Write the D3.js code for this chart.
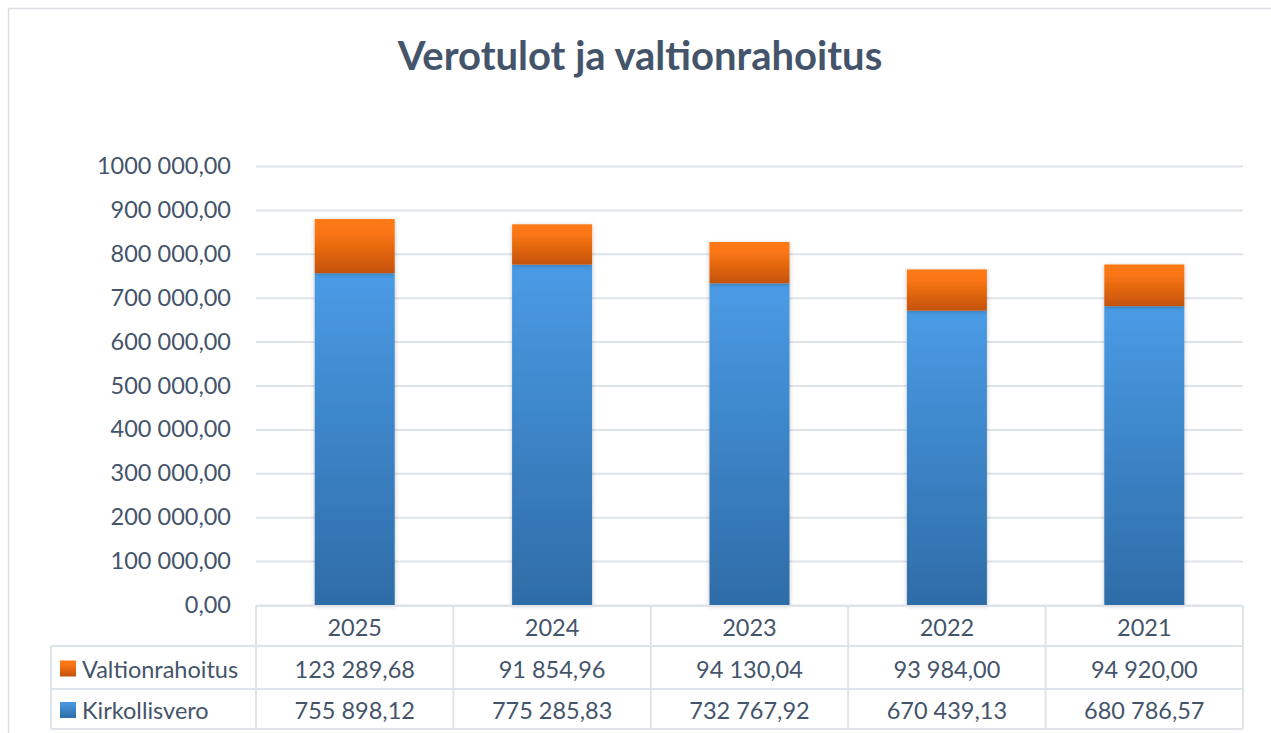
<!DOCTYPE html>
<html>
<head>
<meta charset="utf-8">
<script src="https://cdn.jsdelivr.net/npm/d3@7"></script>
<style>
  html, body { margin: 0; padding: 0; background: #fff; }
  svg { display: block; font-family: Lato, Carlito, "Open Sans", sans-serif; }
</style>
</head>
<body>
<div id="chart"></div>
<script>
const years = ['2025', '2024', '2023', '2022', '2021'];
const valtionrahoitus = [123289.68, 91854.96, 94130.04, 93984.0, 94920.0];
const kirkollisvero = [755898.12, 775285.83, 732767.92, 670439.13, 680786.57];
const seriesNames = ['Valtionrahoitus', 'Kirkollisvero'];
const yTicks = [0, 100000, 200000, 300000, 400000, 500000, 600000, 700000, 800000, 900000, 1000000];
const yTickLabels = ['0,00', '100 000,00', '200 000,00', '300 000,00', '400 000,00', '500 000,00',
	'600 000,00', '700 000,00', '800 000,00', '900 000,00', '1000 000,00'];

const W = 1271, H = 733;
const textColor = '#44546a';
const gridColor = '#dfe4ea';

const fmt = (v) => {
	const parts = v.toFixed(2).split('.');
	const int = parts[0].replace(/\B(?=(\d{3})+(?!\d))/g, ' ');
	return `${int},${parts[1]}`;
};

const svg = d3.select('#chart').append('svg').attr('width', W).attr('height', H);

const defs = svg.append('defs');
const blue = defs.append('linearGradient').attr('id', 'gBlue').attr('x1', 0).attr('y1', 0).attr('x2', 0).attr('y2', 1);
blue.append('stop').attr('offset', '0%').attr('stop-color', '#4a9be6');
blue.append('stop').attr('offset', '100%').attr('stop-color', '#2e6ca7');
const orange = defs.append('linearGradient').attr('id', 'gOrange').attr('x1', 0).attr('y1', 0).attr('x2', 0).attr('y2', 1);
orange.append('stop').attr('offset', '0%').attr('stop-color', '#ff7a14');
orange.append('stop').attr('offset', '25%').attr('stop-color', '#fa7613');
orange.append('stop').attr('offset', '100%').attr('stop-color', '#c4520c');
const shadow = defs.append('filter').attr('id', 'shadow').attr('x', '-20%').attr('y', '-20%').attr('width', '140%').attr('height', '140%');
shadow.append('feDropShadow').attr('dx', 0).attr('dy', 1).attr('stdDeviation', 2).attr('flood-color', '#000').attr('flood-opacity', 0.25);

// chart frame
svg.append('rect').attr('x', 8.5).attr('y', 8.5).attr('width', W).attr('height', H)
	.attr('fill', 'none').attr('stroke', '#d9dee5').attr('stroke-width', 1.5);

svg.append('text').attr('x', 640).attr('y', 70).attr('text-anchor', 'middle')
	.attr('font-size', 40).attr('font-weight', 700).attr('fill', textColor)
	.text('Verotulot ja valtionrahoitus');

const plot = { left: 256, right: 1243, top: 166, bottom: 605 };

const x = d3.scaleBand().domain(years).range([plot.left, plot.right]);
const y = d3.scaleLinear().domain([0, 1000000]).range([plot.bottom, plot.top]);
const barW = 80;

// gridlines
const yAxis = d3.axisLeft(y).tickValues(yTicks).tickSize(-(plot.right - plot.left))
	.tickFormat((d, i) => yTickLabels[i]).tickPadding(25);
const gy = svg.append('g').attr('transform', `translate(${plot.left},0)`).call(yAxis);
gy.select('.domain').remove();
gy.selectAll('line').attr('stroke', gridColor).attr('stroke-width', 2);
gy.selectAll('text').attr('font-size', 23.5).attr('fill', textColor).attr('font-family', 'Lato, Carlito, sans-serif');

// stacked bars
const stackData = years.map((yr, i) => ({ year: yr, Kirkollisvero: kirkollisvero[i], Valtionrahoitus: valtionrahoitus[i] }));
const stack = d3.stack().keys(['Kirkollisvero', 'Valtionrahoitus'])(stackData);
const fills = { Kirkollisvero: 'url(#gBlue)', Valtionrahoitus: 'url(#gOrange)' };

svg.append('g').selectAll('g').data(stack).join('g')
	.attr('fill', (s) => fills[s.key])
	.attr('filter', 'url(#shadow)')
	.selectAll('rect').data((s) => s).join('rect')
	.attr('x', (d) => x(d.data.year) + (x.bandwidth() - barW) / 2)
	.attr('y', (d) => y(d[1]))
	.attr('width', barW)
	.attr('height', (d) => y(d[0]) - y(d[1]));

// data table
const rowTop = [606, 646, 689, 729];
const tableLeft = 51;
const table = svg.append('g');
const line = (x1, y1, x2, y2) => table.append('line').attr('x1', x1).attr('y1', y1).attr('x2', x2).attr('y2', y2)
	.attr('stroke', gridColor).attr('stroke-width', 2);

line(plot.left, rowTop[0], plot.right, rowTop[0]);
line(tableLeft, rowTop[1], plot.right, rowTop[1]);
line(tableLeft, rowTop[2], plot.right, rowTop[2]);
line(tableLeft, rowTop[3], plot.right, rowTop[3]);
line(tableLeft, rowTop[1], tableLeft, rowTop[3]);
x.domain().forEach((yr) => line(x(yr), rowTop[0], x(yr), rowTop[3]));
line(plot.right, rowTop[0], plot.right, rowTop[3]);

const cellText = (tx, ty, t, anchor) => table.append('text').attr('x', tx).attr('y', ty)
	.attr('text-anchor', anchor || 'middle').attr('dominant-baseline', 'central')
	.attr('font-size', 23.5).attr('fill', textColor).text(t);

years.forEach((yr) => cellText(x(yr) + x.bandwidth() / 2, (rowTop[0] + rowTop[1]) / 2 + 1, yr));

const rows = [
	{ name: seriesNames[0], values: valtionrahoitus, fill: 'url(#gOrange)' },
	{ name: seriesNames[1], values: kirkollisvero, fill: 'url(#gBlue)' }
];
rows.forEach((r, ri) => {
	const cy = (rowTop[ri + 1] + rowTop[ri + 2]) / 2 + 1;
	table.append('rect').attr('x', 60).attr('y', cy - 8).attr('width', 16).attr('height', 16).attr('fill', r.fill);
	cellText(82, cy, r.name, 'start');
	r.values.forEach((v, i) => cellText(x(years[i]) + x.bandwidth() / 2, cy, fmt(v)));
});
</script>
</body>
</html>
